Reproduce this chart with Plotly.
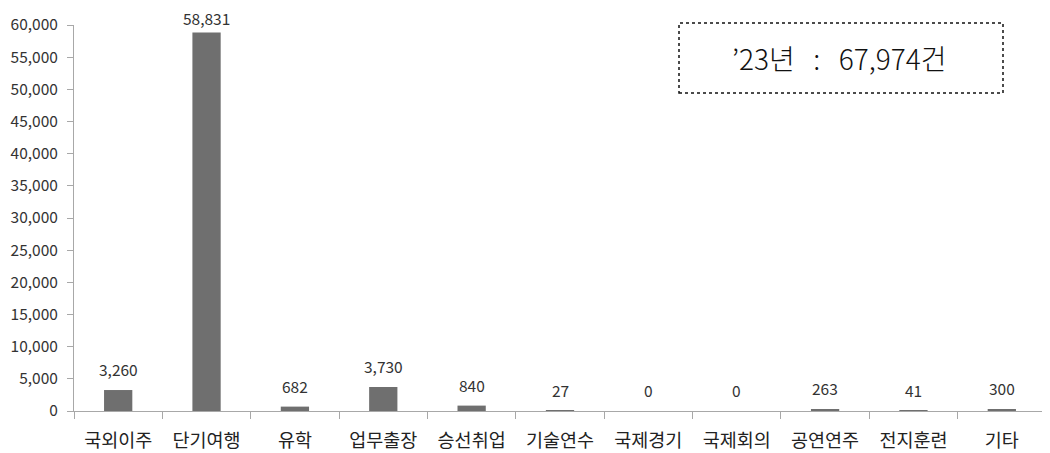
import plotly.graph_objects as go

categories = ["국외이주", "단기여행", "유학", "업무출장", "승선취업", "기술연수", "국제경기", "국제회의", "공연연주", "전지훈련", "기타"]
values = [3260, 58831, 682, 3730, 840, 27, 0, 0, 263, 41, 300]
y_ticks = list(range(0, 60001, 5000))
y_tick_labels = [f"{v:,}" for v in y_ticks]
total_text = "’23년   :   67,974건"

font_main = "Noto Sans CJK KR"
Y_MAX = 60000

# page body has an 8px margin; compensate
OFF = 8
L, T, R, B = 74 - OFF, 25 - OFF, 4 + OFF, 42 + OFF
PW, PH = 1050 - L - R, 453 - T - B

def px(x):
    return (x - OFF - L) / PW

def py(y):
    return (453 - B - (y - OFF)) / PH

fig = go.Figure()
fig.add_trace(go.Bar(
    x=categories, y=values,
    marker=dict(color="#6f6f6f", line=dict(width=0)),
    width=0.32,
    cliponaxis=False,
))

# data labels: fixed gap above bar, kept inside the chart top
annotations = []
for c, v in zip(categories, values):
    bar_top_px = PH * v / Y_MAX
    shift = min(8, PH - bar_top_px - 6)
    annotations.append(dict(
        x=c, y=v, xref="x", yref="y", text=f"{v:,}", showarrow=False,
        yanchor="bottom", yshift=shift,
        font=dict(family=font_main, size=15.5, color="#333333"),
    ))

annotations.append(dict(
    xref="paper", yref="paper", x=px(839), y=py(58),
    xanchor="center", yanchor="middle",
    text=total_text, showarrow=False,
    font=dict(family=font_main, size=28, color="#111111", weight=300),
))

fig.update_layout(
    width=1050, height=453,
    margin=dict(l=L, r=R, t=T, b=B, autoexpand=False),
    plot_bgcolor="white", paper_bgcolor="white",
    showlegend=False,
    xaxis=dict(
        showline=True, linecolor="#a8a8a8", linewidth=1,
        ticks="outside", tickson="boundaries", ticklen=7, tickcolor="#a8a8a8",
        tickfont=dict(family=font_main, size=18.5, color="#222222"),
        ticklabelstandoff=13, automargin=False,
        showgrid=False,
    ),
    yaxis=dict(
        range=[0, Y_MAX],
        tickvals=y_ticks, ticktext=y_tick_labels,
        showline=True, linecolor="#a8a8a8", linewidth=1,
        ticks="outside", ticklen=6, tickcolor="#a8a8a8",
        tickfont=dict(family=font_main, size=15.5, color="#333333"),
        ticklabelstandoff=6, automargin=False,
        showgrid=False, zeroline=False,
    ),
    annotations=annotations,
)
fig.add_shape(type="rect", xref="paper", yref="paper",
              x0=px(679), x1=px(1003),
              y0=py(93), y1=py(23),
              line=dict(color="#111111", width=1.5, dash="dot"))

fig.write_html("out.html")
